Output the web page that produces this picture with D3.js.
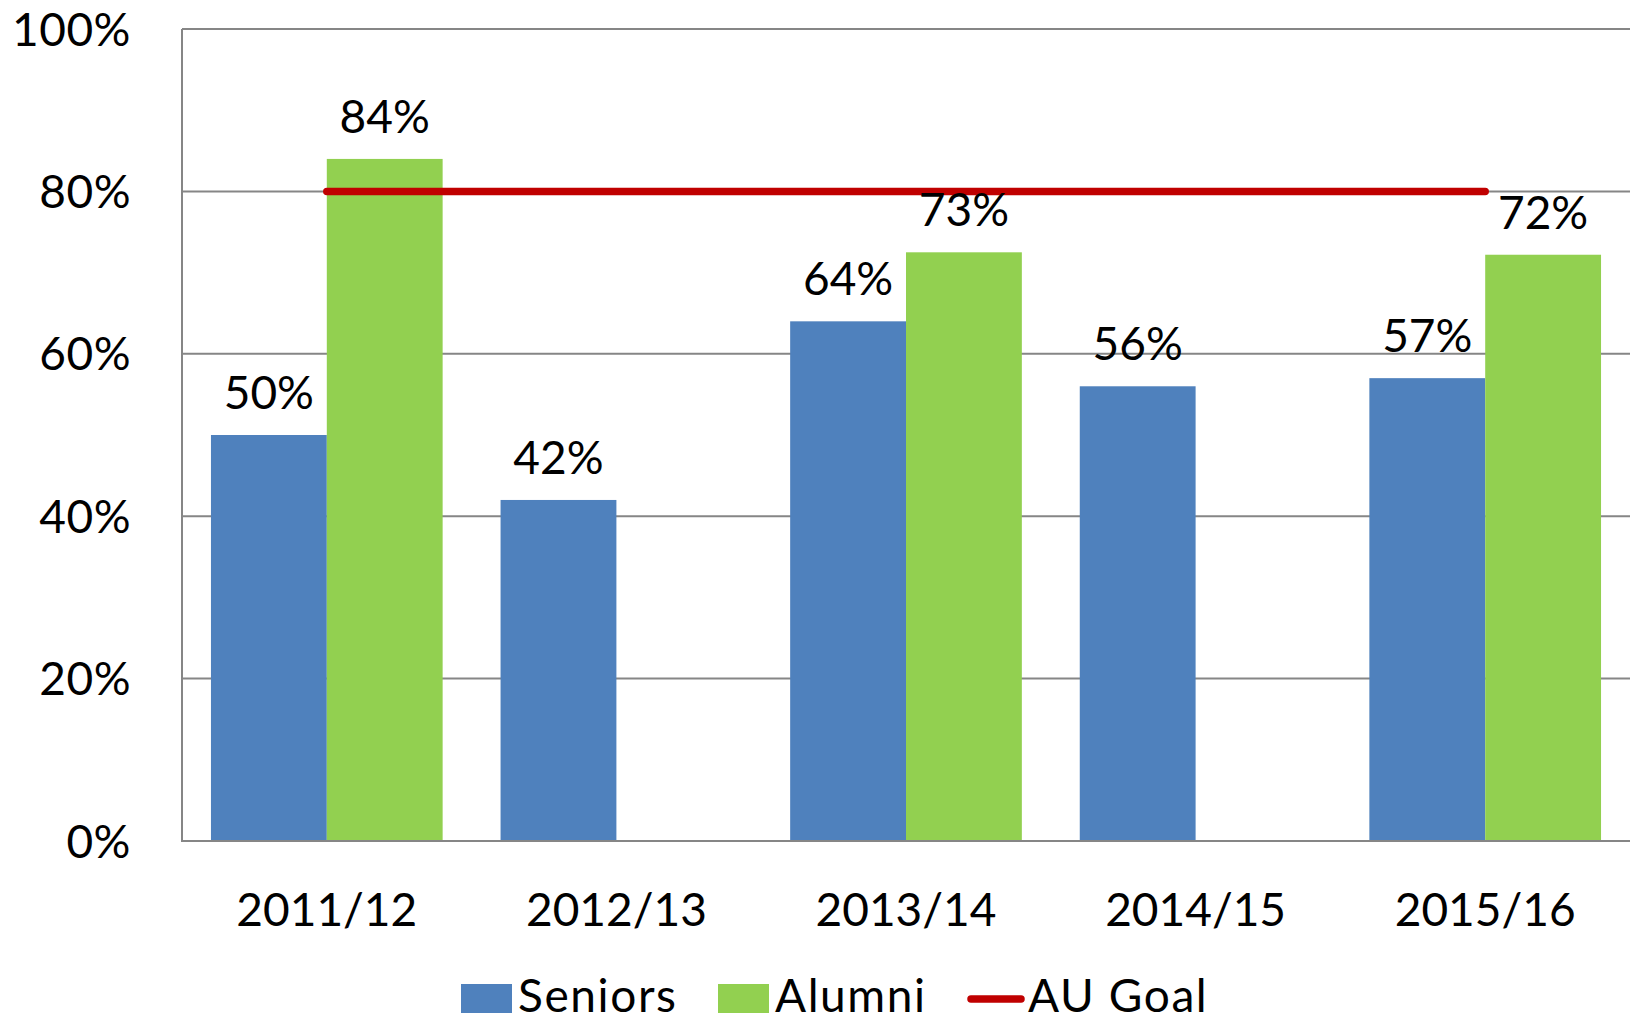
<!DOCTYPE html>
<html>
<head>
<meta charset="utf-8">
<script src="https://cdn.jsdelivr.net/npm/d3@7"></script>
<style>
html,body{margin:0;padding:0;background:#fff;overflow:hidden;}
svg{display:block;}
text{font-family:Lato, "Open Sans", sans-serif;fill:#000;}
</style>
</head>
<body>
<svg id="chart" width="1630" height="1018"></svg>
<script>
const categories = ["2011/12","2012/13","2013/14","2014/15","2015/16"];
const seniors = [50, 42, 64, 56, 57];
const alumni = [84, null, 72.5, null, 72.2];
const goal = [80, 80, 80, 80, 80];
const yTicks = [0, 20, 40, 60, 80, 100];
const seriesNames = ["Seniors", "Alumni", "AU Goal"];
const colors = {Seniors:"#4F81BD", Alumni:"#92D050", "AU Goal":"#C00000"};

const svg = d3.select("#chart");
const W = 1630, H = 1018;
const m = {left:182, right:0, top:29, bottom:177};
const fs = 46;

const x = d3.scaleBand().domain(categories).range([m.left, W - m.right]).paddingInner(0).paddingOuter(0);
const y = d3.scaleLinear().domain([0,100]).range([H - m.bottom, m.top]);
const groupW = x.bandwidth() * 0.8;
const xs = d3.scaleBand().domain(["Seniors","Alumni"]).range([0, groupW]);

// gridlines
svg.append("g").selectAll("line").data(yTicks.filter(d => d > 0)).join("line")
  .attr("x1", m.left).attr("x2", W - m.right)
  .attr("y1", d => y(d)).attr("y2", d => y(d))
  .attr("stroke", "#868686").attr("stroke-width", 2);

// y axis labels
svg.append("g").selectAll("text").data(yTicks).join("text")
  .attr("x", 131).attr("y", d => y(d) + 16.5)
  .attr("text-anchor", "end").attr("font-size", fs)
  .attr("letter-spacing", 0.5)
  .text(d => d + "%");

// bars
const barData = [];
categories.forEach((c, i) => {
  barData.push({c, s:"Seniors", v:seniors[i]});
  if (alumni[i] != null) barData.push({c, s:"Alumni", v:alumni[i]});
});
const x0 = c => x(c) + (x.bandwidth() - groupW) / 2;
svg.append("g").selectAll("rect").data(barData).join("rect")
  .attr("x", d => x0(d.c) + xs(d.s))
  .attr("width", xs.bandwidth())
  .attr("y", d => y(d.v))
  .attr("height", d => y(0) - y(d.v))
  .attr("fill", d => colors[d.s]);

// axes lines
svg.append("line").attr("x1", m.left).attr("x2", m.left).attr("y1", y(100)).attr("y2", y(0))
  .attr("stroke", "#868686").attr("stroke-width", 2);
svg.append("line").attr("x1", m.left - 1).attr("x2", W - m.right).attr("y1", y(0)).attr("y2", y(0))
  .attr("stroke", "#868686").attr("stroke-width", 2);

// goal line
const line = d3.line().x((d, i) => x(categories[i]) + x.bandwidth() / 2).y(d => y(d));
svg.append("path").datum(goal).attr("d", line)
  .attr("fill", "none").attr("stroke", colors["AU Goal"]).attr("stroke-width", 7.5)
  .attr("stroke-linecap", "round");

// data labels
svg.append("g").selectAll("text").data(barData).join("text")
  .attr("x", d => x0(d.c) + xs(d.s) + xs.bandwidth() / 2)
  .attr("y", d => y(d.v) - 26)
  .attr("text-anchor", "middle").attr("font-size", fs)
  .text(d => Math.round(d.v) + "%");

// x labels
svg.append("g").selectAll("text").data(categories).join("text")
  .attr("x", d => x(d) + x.bandwidth() / 2)
  .attr("y", 926)
  .attr("text-anchor", "middle").attr("font-size", fs)
  .text(d => d);

// legend
const legend = [
  {name:"Seniors", type:"rect", x:461, tx:518},
  {name:"Alumni", type:"rect", x:718, tx:775},
  {name:"AU Goal", type:"line", x:967, tx:1028}
];
const lg = svg.append("g");
legend.forEach(l => {
  if (l.type === "rect") {
    lg.append("rect").attr("x", l.x).attr("y", 984).attr("width", 51).attr("height", 29).attr("fill", colors[l.name]);
  } else {
    lg.append("line").attr("x1", l.x + 4).attr("x2", l.x + 54).attr("y1", 999).attr("y2", 999)
      .attr("stroke", colors[l.name]).attr("stroke-width", 7.5).attr("stroke-linecap", "round");
  }
  lg.append("text").attr("x", l.tx).attr("y", 1012).attr("font-size", fs)
    .attr("letter-spacing", 1.6).text(l.name);
});
</script>
</body>
</html>
